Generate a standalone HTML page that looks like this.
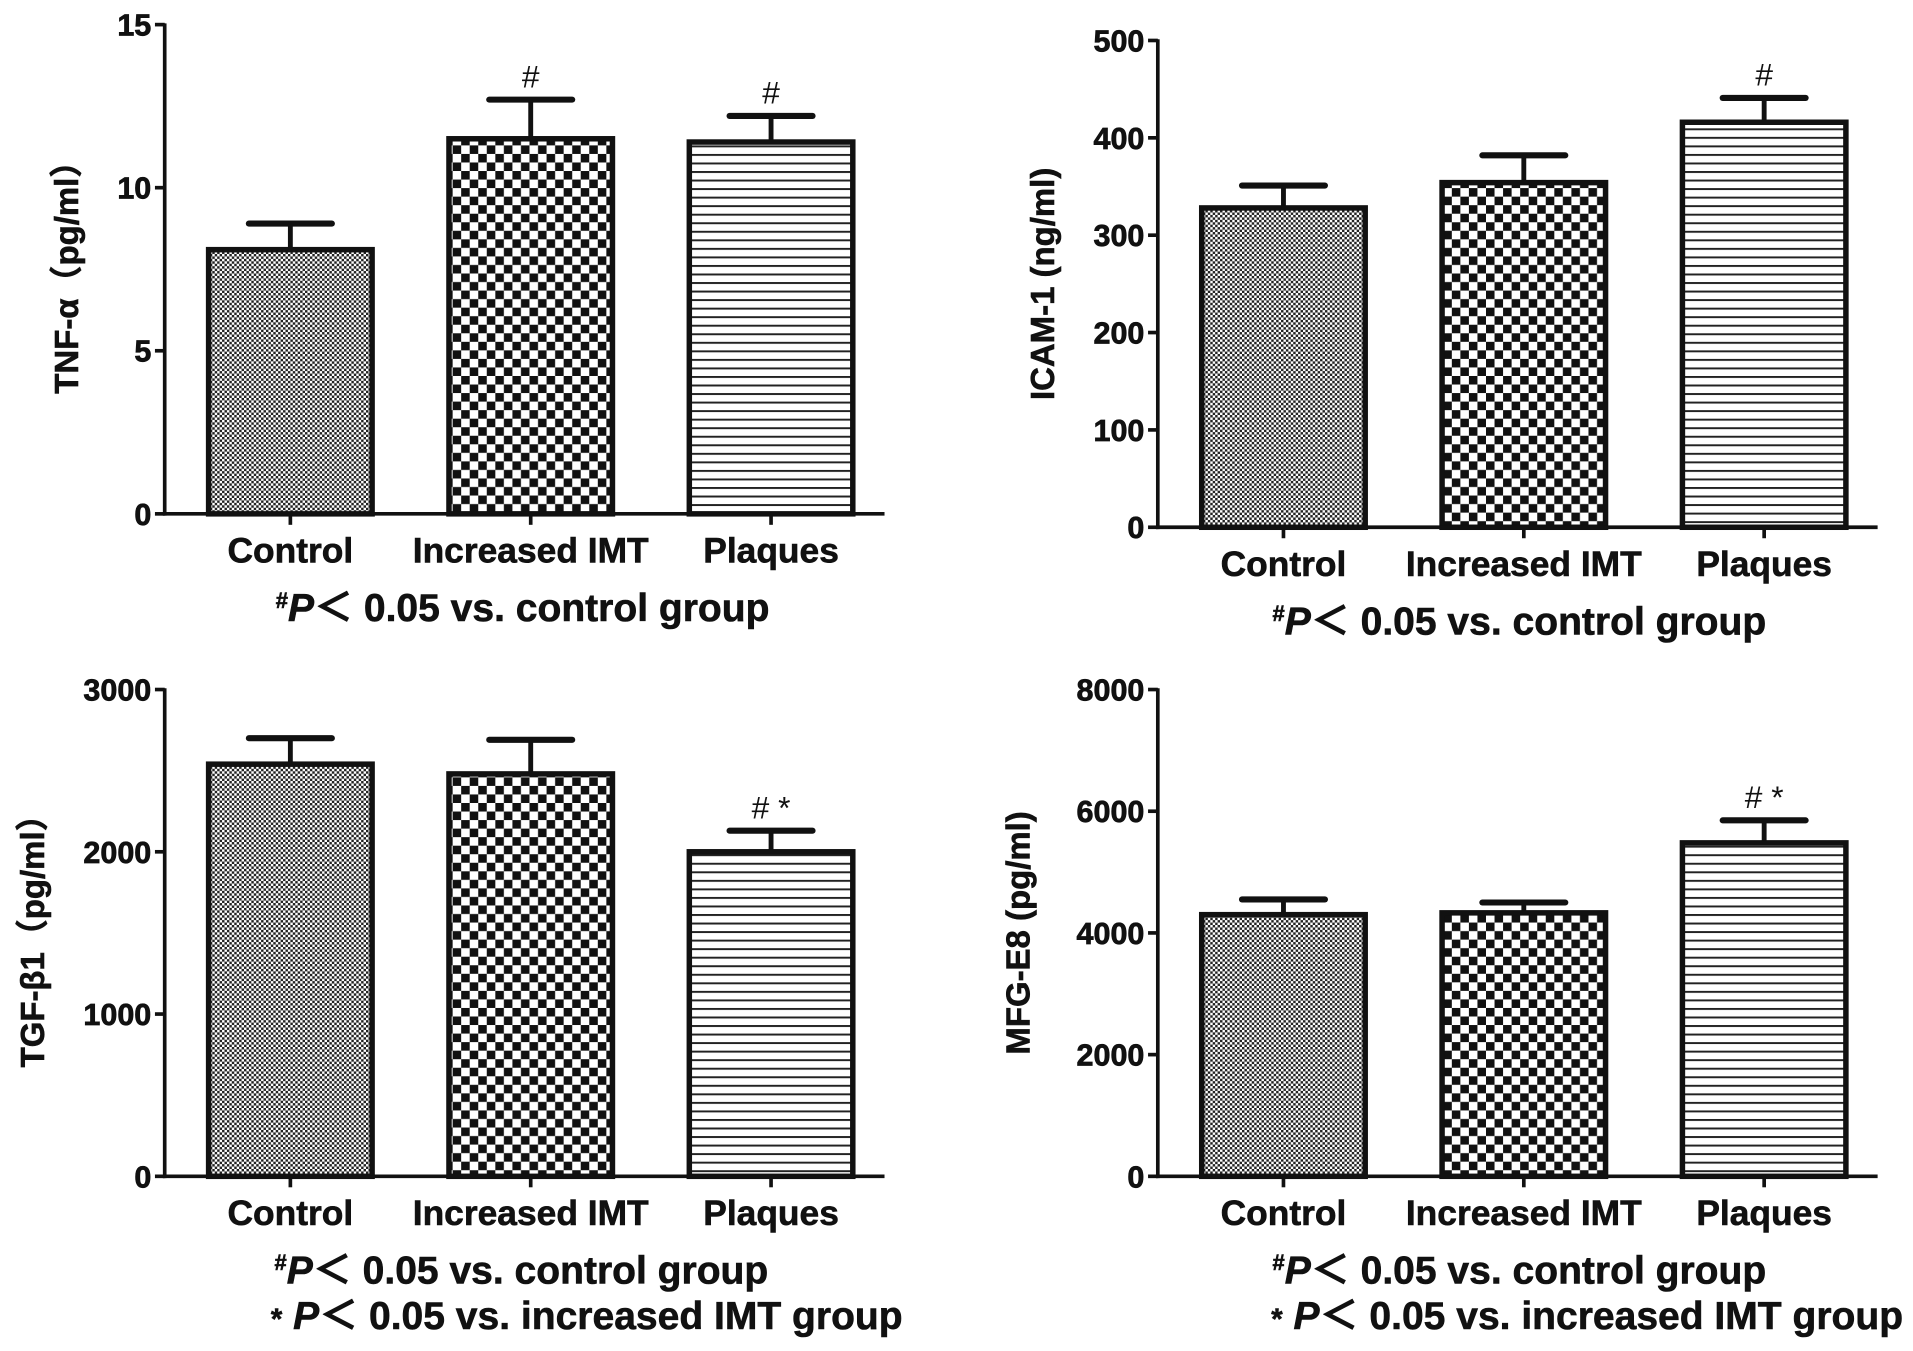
<!DOCTYPE html>
<html><head><meta charset="utf-8"><style>
html,body{margin:0;padding:0;background:#fff}
svg{display:block}
text{font-family:"Liberation Sans","Noto Sans CJK SC",sans-serif;font-weight:bold;fill:#111}
</style></head><body>
<svg id="chart" width="1913" height="1351" viewBox="0 0 1568 1107" xmlns="http://www.w3.org/2000/svg">
<defs>
<pattern id="pFine" width="4" height="4" patternUnits="userSpaceOnUse">
<rect width="4" height="4" fill="#fff"/><rect width="2" height="2" fill="#222"/><rect x="2" y="2" width="2" height="2" fill="#222"/></pattern>
<pattern id="pCheck" width="14" height="14" patternUnits="userSpaceOnUse">
<rect width="14" height="14" fill="#fff"/><rect width="7" height="7" fill="#111"/><rect x="7" y="7" width="7" height="7" fill="#111"/></pattern>
<pattern id="pLines" width="10" height="7" patternUnits="userSpaceOnUse">
<rect width="10" height="7" fill="#fff"/><rect y="0" width="10" height="1.6" fill="#222"/></pattern>
</defs>
</svg>
<script>
const categories = ["Control","Increased IMT","Plaques"];
const tnfValues = [8.1, 11.5, 11.4];
const tnfErrors = [8.9, 12.7, 12.2];
const tnfTicks = [0,5,10,15];
const icamValues = [328, 354, 416];
const icamErrors = [351, 382, 441];
const icamTicks = [0,100,200,300,400,500];
const tgfValues = [2540, 2480, 2000];
const tgfErrors = [2700, 2690, 2130];
const tgfTicks = [0,1000,2000,3000];
const mfgValues = [4300, 4330, 5480];
const mfgErrors = [4550, 4500, 5850];
const mfgTicks = [0,2000,4000,6000,8000];
const tnfMarks = ["","#","#"];
const icamMarks = ["","","#"];
const tgfMarks = ["","","# *"];
const mfgMarks = ["","","# *"];

const svg = document.getElementById('chart');
const NS = "http://www.w3.org/2000/svg";
function mk(tag, attrs, parent){const e=document.createElementNS(NS,tag);for(const k in attrs)e.setAttribute(k,attrs[k]);(parent||svg).appendChild(e);return e;}

function panel(cfg){
  const g = mk('g',{});
  
  
  const max = cfg.ticks[cfg.ticks.length-1];
  const y = v => cfg.y0 - (v/max)*(cfg.y0-cfg.yTop);
  const bw = 134, step = 197, firstLeft = cfg.ax + 36;
  const x = i => firstLeft + i*step;
  const ya = mk('line',{x1:cfg.ax,y1:cfg.yTop-1,x2:cfg.ax,y2:cfg.y0+1.5,stroke:'#111','stroke-width':3},g);
  
  
  cfg.ticks.forEach(t=>{
    mk('line',{x1:cfg.ax-8,y1:y(t),x2:cfg.ax,y2:y(t),stroke:'#111','stroke-width':3},g);
    const tl = mk('text',{x:cfg.ax-11,y:y(t)+9,'text-anchor':'end','font-size':25,'stroke':'#111','stroke-width':0.6},g);
    tl.textContent = t;
    
    
  });
  const pats = ['url(#pFine)','url(#pCheck)','url(#pLines)'];
  cfg.values.forEach((v,i)=>{
    const cx = x(i)+bw/2;
    const eb = mk('g',{},g);
    
    
    mk('line',{x1:cx,y1:y(v),x2:cx,y2:y(cfg.errors[i]),stroke:'#111','stroke-width':4},eb);
    mk('line',{x1:cx-34,y1:y(cfg.errors[i]),x2:cx+34,y2:y(cfg.errors[i]),stroke:'#111','stroke-width':5,'stroke-linecap':'round'},eb);
    const r = mk('rect',{x:x(i),y:y(v),width:bw,height:cfg.y0-y(v),fill:pats[i],stroke:'#111','stroke-width':4.5},g);
    
    
    if(cfg.marks[i]){
      const m = mk('text',{x:cx,y:y(cfg.errors[i])-10,'text-anchor':'middle','font-size':26},g);
      m.style.fontWeight='normal';
      m.textContent = cfg.marks[i];
      
      
    }
    mk('line',{x1:cx,y1:cfg.y0,x2:cx,y2:cfg.y0+9,stroke:'#111','stroke-width':3},g);
    const cl = mk('text',{x:cx,y:cfg.y0+40,'text-anchor':'middle','font-size':29,'stroke':'#111','stroke-width':0.5},g);
    cl.textContent = categories[i];
    
    
  });
  const xa = mk('line',{x1:cfg.ax-1.5,y1:cfg.y0,x2:cfg.ax+590,y2:cfg.y0,stroke:'#111','stroke-width':3},g);
  
  
  const yt = mk('text',{x:0,y:0,'text-anchor':'middle','font-size':27,'stroke':'#111','stroke-width':0.5,transform:`translate(${cfg.titleX},${(cfg.y0+cfg.yTop)/2}) rotate(-90)`},g);
  yt.textContent = cfg.title;
  
  
  cfg.notes.forEach((n,k)=>{
    const t = mk('text',{x:cfg.noteX[k],y:cfg.y0+88+k*37,'font-size':32,'stroke':'#111','stroke-width':0.5},g);
    t.innerHTML = n;
    
    
  });
}
const n1 = '<tspan font-size="18" dy="-11">#</tspan><tspan dy="11" font-style="italic">P</tspan>＜ 0.05 vs. control group';
const n2 = '<tspan font-size="24">*</tspan><tspan font-style="italic"> P</tspan>＜ 0.05 vs. increased IMT group';
panel({name:'tnf-alpha-panel',ax:135,yTop:20,y0:421,ticks:tnfTicks,values:tnfValues,errors:tnfErrors,marks:tnfMarks,title:'TNF-α（pg/ml）',titleX:64,notes:[n1],noteX:[226]});
panel({name:'icam-1-panel',ax:949,yTop:33,y0:432,ticks:icamTicks,values:icamValues,errors:icamErrors,marks:icamMarks,title:'ICAM-1 (ng/ml)',titleX:864,notes:[n1],noteX:[1043]});
panel({name:'tgf-beta1-panel',ax:135,yTop:565,y0:964,ticks:tgfTicks,values:tgfValues,errors:tgfErrors,marks:tgfMarks,title:'TGF-β1（pg/ml）',titleX:36,notes:[n1,n2],noteX:[225,222]});
panel({name:'mfg-e8-panel',ax:949,yTop:565,y0:964,ticks:mfgTicks,values:mfgValues,errors:mfgErrors,marks:mfgMarks,title:'MFG-E8 (pg/ml)',titleX:844,notes:[n1,n2],noteX:[1043,1042]});
</script>
</body></html>
